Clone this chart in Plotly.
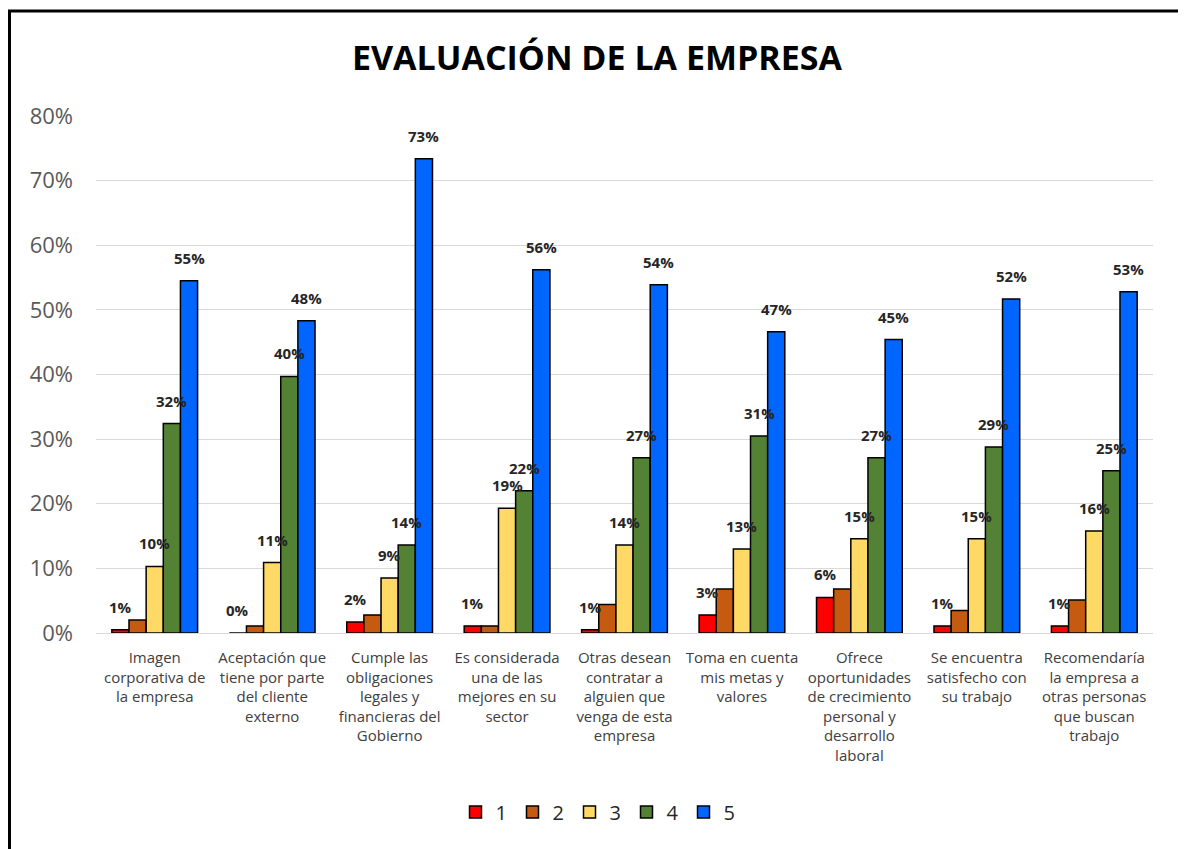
import math
import plotly.graph_objects as go

categories = [
    "Imagen<br>corporativa de<br>la empresa",
    "Aceptación que<br>tiene por parte<br>del cliente<br>externo",
    "Cumple las<br>obligaciones<br>legales y<br>financieras del<br>Gobierno",
    "Es considerada<br>una de las<br>mejores en su<br>sector",
    "Otras desean<br>contratar a<br>alguien que<br>venga de esta<br>empresa",
    "Toma en cuenta<br>mis metas y<br>valores",
    "Ofrece<br>oportunidades<br>de crecimiento<br>personal y<br>desarrollo<br>laboral",
    "Se encuentra<br>satisfecho con<br>su trabajo",
    "Recomendaría<br>la empresa a<br>otras personas<br>que buscan<br>trabajo",
]

series_names = ["1", "2", "3", "4", "5"]
s1 = [0.5, 0.0, 1.7, 1.1, 0.5, 2.8, 5.5, 1.1, 1.1]
s2 = [2.0, 1.1, 2.8, 1.1, 4.4, 6.8, 6.8, 3.5, 5.1]
s3 = [10.3, 10.9, 8.5, 19.3, 13.6, 13.0, 14.6, 14.6, 15.8]
s4 = [32.4, 39.7, 13.6, 22.0, 27.1, 30.5, 27.1, 28.8, 25.1]
s5 = [54.5, 48.3, 73.4, 56.2, 53.9, 46.6, 45.4, 51.7, 52.8]
series_values = [s1, s2, s3, s4, s5]
labeled = [True, False, True, True, True]
colors = ["#FF0000", "#C55A11", "#FFD966", "#548235", "#0066FF"]

y_ticks = [0, 10, 20, 30, 40, 50, 60, 70, 80]

# page has an 8px body margin; figure coordinates = page coordinates - 8
OFF = 8
W, H = 1186 - OFF, 849 - OFF
ML = 96 - OFF
MR = W - (1153 - OFF)
MT = 116 - OFF
MB = H - (633 - OFF)
plot_w = W - ML - MR
plot_h = H - MT - MB
bargap = 0.27
bar_px = plot_w / len(categories) * (1 - bargap) / len(series_names)

fig = go.Figure()
annotations = []
for i, (name, vals) in enumerate(zip(series_names, series_values)):
    fig.add_trace(go.Bar(
        x=categories, y=vals, name=name,
        marker=dict(color=colors[i], line=dict(color="#000000", width=1.5)),
    ))
    if labeled[i]:
        for c, v in zip(categories, vals):
            annotations.append(dict(
                x=c, y=v, xref="x", yref="y",
                text=f"{math.floor(v + 0.5)}%",
                showarrow=False, xanchor="center", yanchor="middle",
                xshift=(i - 2) * bar_px, yshift=23,
                font=dict(family="Open Sans", size=15, color="#262626", weight="bold"),
            ))

def fx(px_page):
    return (px_page - OFF - ML) / plot_w

def fy(py_page):
    return (H - MB - (py_page - OFF)) / plot_h

fig.update_layout(
    width=W, height=H,
    margin=dict(l=ML, r=MR, t=MT, b=MB),
    paper_bgcolor="white", plot_bgcolor="white",
    barmode="group", bargap=bargap, bargroupgap=0,
    title=dict(text="<b>EVALUACIÓN DE LA EMPRESA</b>", x=0.5, xanchor="center",
               y=1 - (58 - OFF) / H, yanchor="middle",
               font=dict(family="Open Sans", size=34, color="#000000")),
    showlegend=True,
    legend=dict(orientation="h", x=fx(598), xanchor="center",
                y=fy(812), yanchor="middle", entrywidth=12, entrywidthmode="pixels",
                font=dict(family="Open Sans", size=20, color="#262626"),
                traceorder="normal"),
    annotations=annotations,
    shapes=[dict(type="rect", xref="paper", yref="paper",
                 x0=fx(OFF + 1.5), x1=fx(1184.5),
                 y0=fy(880), y1=fy(11),
                 line=dict(color="#000000", width=3), fillcolor="rgba(0,0,0,0)")],
)
fig.update_xaxes(
    type="category", showgrid=False, showline=True, linecolor="#D9D9D9", linewidth=1,
    ticks="", tickfont=dict(family="Open Sans", size=15, color="#404040"),
    ticklabelstandoff=11, tickangle=0,
)
fig.update_yaxes(
    range=[0, 80], tickvals=y_ticks, ticktext=[f"{t}%" for t in y_ticks],
    showgrid=True, gridcolor="#D9D9D9", gridwidth=1, zeroline=False,
    showline=False, ticks="", tickfont=dict(family="Open Sans", size=22, color="#595959"),
    ticklabelstandoff=22,
)
fig.write_html("out.html")
